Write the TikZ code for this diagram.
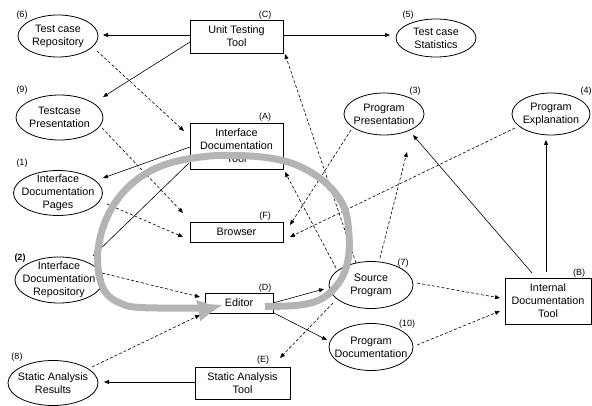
\documentclass[tikz,border=0pt]{standalone}
\usepackage{fontspec}
\setmainfont{Liberation Sans}
\usetikzlibrary{shapes.geometric,arrows.meta,calc}
\definecolor{loopgray}{RGB}{180,180,180}
\begin{document}
\begin{tikzpicture}[x=1pt,y=-1pt,
  every node/.style={font=\fontsize{10.8}{13}\selectfont, align=center, inner sep=0pt},
  ell/.style={draw, ellipse, line width=0.8pt},
  box/.style={draw, rectangle, line width=0.8pt},
  tag/.style={font=\fontsize{9}{10}\selectfont},
  sol/.style={line width=0.6pt, -{Triangle[length=5pt,width=4pt]}},
  das/.style={sol, dash pattern=on 3pt off 2pt},
  graycurve/.style={line width=7pt, draw=loopgray, -{Triangle[length=20pt,width=20pt]}}
]
\useasboundingbox (0,0) rectangle (592,406);

% ellipses
\node[ell, minimum width=80pt, minimum height=42pt, label={center:Test case\\Repository}] (n6) at (58,36) {};
\node[ell, minimum width=80pt, minimum height=38pt, label={center:Test case\\Statistics}] (n5) at (436,38) {};
\node[ell, minimum width=87pt, minimum height=45pt, label={center:Testcase\\Presentation}] (n9) at (59.5,117.5) {};
\node[ell, minimum width=80pt, minimum height=42pt, label={center:Program\\Presentation}] (n3) at (384,114) {};
\node[ell, minimum width=78pt, minimum height=42pt, label={center:Program\\Explanation}] (n4) at (551,114) {};
\node[ell, minimum width=89pt, minimum height=45pt, label={center:Interface\\Documentation\\Pages}] (n1) at (58,193) {};
\node[ell, minimum width=88pt, minimum height=46pt, label={center:Interface\\Documentation\\Repository}] (n2) at (59,280) {};
\node[ell, minimum width=84pt, minimum height=47pt, label={center:Source\\Program}] (n7) at (371,285) {};
\node[ell, minimum width=84pt, minimum height=47pt, label={center:Program\\Documentation}] (n10) at (371,347) {};
\node[ell, minimum width=90pt, minimum height=45pt, label={center:Static Analysis\\Results}] (n8) at (53,383) {};

% boxes
\node[box, minimum width=93pt, minimum height=33pt] (C) at (236.5,36.5) {Unit Testing\\Tool};
\node[box, minimum width=93pt, minimum height=46pt] (A) at (236.5,146) {Interface\\Documentation\\Tool};
\node[box, minimum width=93pt, minimum height=20pt] (F) at (236.5,232) {Browser};
\node[box, minimum width=68pt, minimum height=20pt] (D) at (239,303) {Editor};
\node[box, minimum width=86pt, minimum height=46pt] (B) at (548,301) {Internal\\Documentation\\Tool};
\node[box, minimum width=95pt, minimum height=32pt] (E) at (242.5,383) {Static Analysis\\Tool};

% tags
\node[tag] (t6) at (22,15) {(6)};
\node[tag] (tC) at (265,15) {(C)};
\node[tag] (t9) at (22,90) {(9)};
\node[tag] (t5) at (408,15) {(5)};
\node[tag] (t3) at (415,91) {(3)};
\node[tag] (t4) at (586,91) {(4)};
\node[tag] (tA) at (265,117) {(A)};
\node[tag] (t1) at (22,163) {(1)};
\node[tag] (tF) at (265,216) {(F)};
\node[tag, font=\fontsize{9}{10}\selectfont\bfseries] (t2) at (20,258) {(2)};
\node[tag] (tD) at (265,288) {(D)};
\node[tag] (t7) at (403,263) {(7)};
\node[tag] (t10) at (407,324) {(10)};
\node[tag] (tB) at (579,273) {(B)};
\node[tag] (tE) at (263,360) {(E)};
\node[tag] (t8) at (17,357) {(8)};

% solid connectors
\draw[sol] ($(C)+(-46.5,-1.5)$) -- ($(n6)+(45,-1)$);
\draw[sol] ($(C)+(46.5,-1.5)$) -- ($(n5)+(-46,-3)$);
\draw[sol] ($(C)+(-46.5,5.5)$) -- ($(n9)+(43.5,-20.5)$);
\draw[sol] ($(A)+(-46.5,1)$) -- ($(n1)+(45,-15)$);
\draw[sol] ($(A)+(-47.5,17)$) -- ($(n2)+(34,-24)$);
\draw[sol] ($(D)+(34,0)$) -- ($(n7)+(-47,4)$);
\draw[sol] ($(D)+(35,10)$) -- ($(n10)+(-44,-7)$);
\draw[sol] ($(E)+(-47.5,-1)$) -- ($(n8)+(51,-1)$);
\draw[sol] ($(B)+(-16,-28)$) -- ($(n3)+(29,21)$);
\draw[sol] ($(B)+(-2,-29)$) -- ($(n4)+(-5,26)$);

% dashed connectors
\draw[das] ($(n6)+(39,15)$) -- ($(A)+(-52.5,-15)$);
\draw[das] ($(n7)+(-15,-22)$) -- ($(C)+(48.5,17.5)$);
\draw[das] ($(n7)+(-35,-17)$) -- ($(A)+(48.5,26)$);
\draw[das] ($(n9)+(42.5,10.5)$) -- ($(F)+(-53.5,-19)$);
\draw[das] ($(n1)+(49,11)$) -- ($(F)+(-53.5,5)$);
\draw[das] ($(n2)+(43,-7)$) -- ($(D)+(-39,-6)$);
\draw[das] ($(n8)+(39,-16)$) -- ($(D)+(-39,12)$);
\draw[das] ($(n7)+(-38,18)$) -- ($(E)+(37.5,-25)$);
\draw[das] ($(n7)+(9,-27)$) -- ($(n3)+(23,38)$);
\draw[das] ($(n3)+(-33,16)$) -- ($(F)+(53.5,-7)$);
\draw[das] ($(n4)+(-36,14)$) -- ($(F)+(53.5,5)$);
\draw[das] ($(n7)+(46,-2)$) -- ($(B)+(-48,-3)$);
\draw[das] ($(n10)+(46,-2)$) -- ($(B)+(-48,10)$);

% gray loop
\draw[graycurve] plot[smooth, tension=0.6] coordinates {
  (265,306.5) (300,305) (323,298) (340,281) (348,260) (349,235) (344,207)
  (327,184) (303,168) (280,160) (250,156) (210,156) (170,163) (142,176)
  (120,196) (105,222) (98,250) (99,275) (106,293) (120,303) (140,307.5) (200,308)
  (218,307)};
\end{tikzpicture}
\end{document}
